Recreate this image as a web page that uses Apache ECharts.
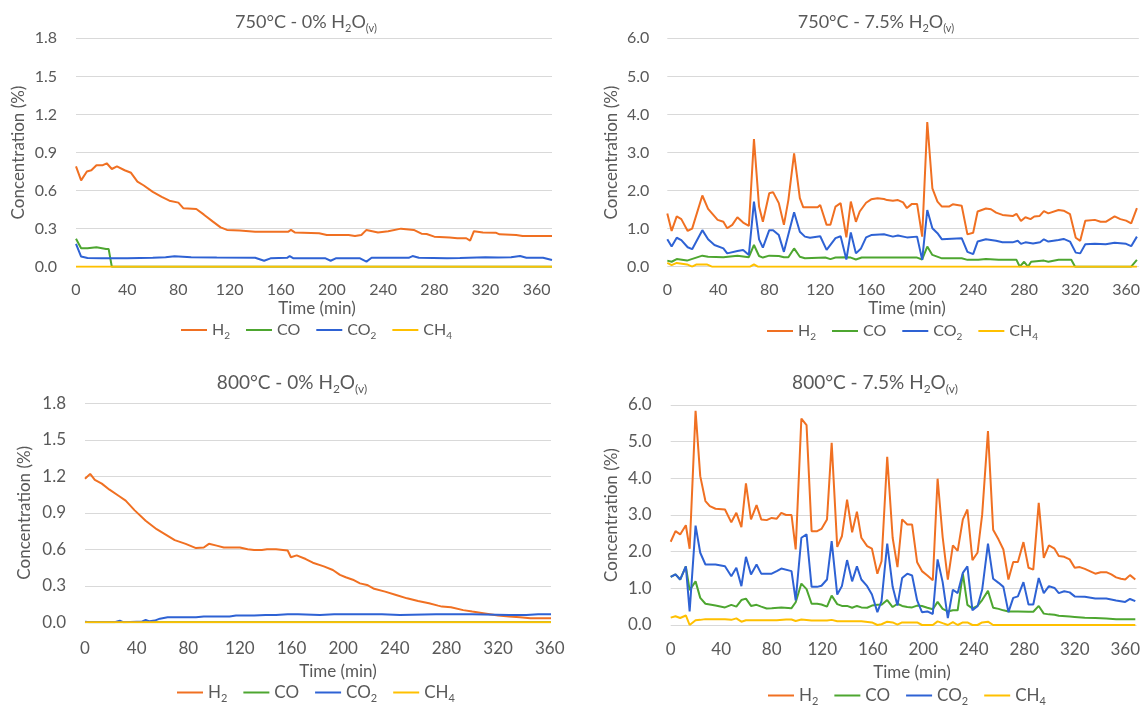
<!DOCTYPE html>
<html><head><meta charset="utf-8">
<script src="https://cdn.jsdelivr.net/npm/echarts@6/dist/echarts.min.js"></script>
<style>html,body{margin:0;padding:0;background:#fff}#c{width:1143px;height:705px}</style>
</head><body><div id="c"></div>
<script>
// ---------- DATA ----------
const seriesNames = ['H2', 'CO', 'CO2', 'CH4'];
const panelTitles = ['750°C - 0% H2O(v)', '750°C - 7.5% H2O(v)', '800°C - 0% H2O(v)', '800°C - 7.5% H2O(v)'];
const xAxisName = 'Time (min)';
const yAxisName = 'Concentration (%)';
const xTickStep = 40;
const yMaxLow = 1.8, yStepLow = 0.3;
const yMaxHigh = 6, yStepHigh = 1;

// Panel 1: 750°C - 0% H2O
const tlH2 = [[0,0.79],[4,0.68],[8.5,0.75],[12,0.76],[16,0.80],[21,0.80],[24,0.815],[28,0.77],[32,0.79],[38,0.76],[43,0.74],[48,0.67],[53,0.64],[60,0.59],[67,0.55],[73,0.52],[80,0.505],[84,0.46],[94,0.455],[100,0.41],[107,0.355],[113,0.31],[118,0.29],[128,0.285],[140,0.276],[166,0.276],[168,0.29],[171,0.27],[190,0.263],[196,0.25],[213,0.25],[218,0.242],[223,0.25],[227,0.29],[236,0.27],[244,0.28],[254,0.30],[264,0.29],[270,0.26],[274,0.258],[280,0.237],[292,0.23],[298,0.224],[305,0.224],[308,0.205],[311,0.28],[318,0.27],[328,0.268],[331,0.255],[344,0.25],[349,0.242],[372,0.242]];
const tlCO = [[0,0.22],[4,0.145],[9,0.145],[16,0.153],[23.5,0.14],[25.5,0.14],[28,0],[372,0]];
const tlCO2 = [[0,0.18],[4,0.08],[9,0.068],[20,0.066],[40,0.066],[60,0.07],[70,0.075],[77,0.082],[90,0.075],[110,0.072],[140,0.07],[147,0.047],[152,0.066],[165,0.07],[167,0.084],[170,0.066],[195,0.066],[199,0.047],[203,0.066],[222,0.066],[227,0.04],[231,0.07],[260,0.07],[263,0.084],[268,0.07],[290,0.066],[300,0.068],[320,0.075],[330,0.072],[340,0.075],[347,0.084],[352,0.07],[365,0.07],[372,0.053]];
const tlCH4 = [[0,0],[372,0]];

// Panel 2: 750°C - 7.5% H2O
const trH2 = [[0,1.40],[3.4,0.94],[7.4,1.32],[11,1.25],[16,0.94],[19.5,1.0],[27.5,1.87],[32,1.52],[39.5,1.23],[44,1.18],[47,1.01],[51,1.10],[55,1.30],[59.5,1.16],[64,1.07],[68,3.35],[72,1.58],[75,1.18],[80,1.93],[83,1.96],[87.5,1.67],[91.5,1.10],[95,1.75],[99.5,2.98],[104,1.80],[106.7,1.56],[118,1.56],[120,1.62],[125,1.10],[128,1.10],[132,1.58],[136,1.67],[140.5,0.77],[144,1.71],[148,1.18],[151,1.45],[156,1.68],[160,1.77],[165,1.80],[170,1.78],[172.5,1.75],[177,1.73],[181,1.75],[185,1.69],[188,1.54],[192,1.65],[196,1.65],[200,0.79],[204,3.80],[208,2.06],[212,1.71],[215.5,1.58],[221,1.58],[224,1.64],[231,1.60],[235.5,0.85],[240,0.89],[243.5,1.45],[250,1.53],[254,1.51],[258,1.42],[263,1.36],[271,1.33],[274,1.39],[277.5,1.20],[281,1.30],[285,1.25],[288,1.32],[292,1.33],[295.5,1.46],[299,1.40],[307,1.49],[311,1.47],[316,1.38],[320.5,0.76],[324,0.68],[328,1.21],[335.5,1.23],[340,1.18],[344,1.18],[351,1.32],[355.5,1.25],[360,1.21],[364,1.14],[368.5,1.54]];
const trCO = [[0,0.16],[3.4,0.13],[7.4,0.20],[15.5,0.16],[27.5,0.29],[32,0.26],[44,0.25],[55,0.29],[64,0.25],[68,0.57],[72,0.28],[75,0.24],[80,0.29],[87.5,0.28],[91.5,0.25],[95,0.25],[99.5,0.48],[104,0.26],[108,0.22],[124,0.24],[128,0.20],[132,0.24],[140.5,0.25],[144,0.24],[148,0.19],[152.5,0.24],[181,0.24],[196,0.24],[200,0.19],[204,0.53],[208,0.31],[215.5,0.22],[231,0.22],[235.5,0.18],[244,0.18],[250,0.20],[260,0.18],[274,0.18],[276.6,0],[280,0.13],[283,0],[285.5,0.13],[295.5,0.16],[299,0.13],[307,0.18],[317,0.18],[320,0],[364,0],[368.5,0.18]];
const trCO2 = [[0,0.72],[3.4,0.53],[7.4,0.76],[11,0.70],[16,0.51],[19.5,0.46],[27.5,0.96],[32,0.72],[37,0.57],[44,0.48],[47,0.35],[55,0.41],[59.5,0.44],[64,0.31],[68,1.71],[72,0.72],[75,0.50],[80,0.96],[83,0.96],[87.5,0.83],[91.5,0.39],[99.5,1.43],[104,0.92],[108,0.79],[112,0.76],[120,0.80],[125,0.44],[132,0.75],[136,0.80],[140.5,0.19],[144,0.90],[148,0.35],[152,0.48],[156,0.77],[160,0.83],[170,0.85],[177,0.79],[181,0.82],[188,0.77],[196,0.79],[200,0.18],[204,1.49],[208,1.01],[212,0.88],[215.5,0.72],[231,0.75],[235.5,0.39],[240,0.33],[243.5,0.66],[250,0.72],[258,0.68],[263,0.64],[271,0.64],[275,0.68],[277.5,0.60],[281,0.64],[287,0.61],[292.5,0.64],[295.5,0.72],[299,0.66],[307,0.70],[311,0.73],[316,0.66],[320.5,0.37],[324,0.35],[328,0.59],[335.5,0.60],[344,0.59],[351,0.63],[360,0.60],[364,0.54],[368.5,0.79]];
const trCH4 = [[0,0.10],[3.4,0.04],[7.4,0.10],[15.5,0.06],[19.5,0],[23,0.06],[31,0.06],[35,0],[65,0],[68,0.06],[71,0],[368.5,0]];

// Panel 3: 800°C - 0% H2O
const blH2 = [[0,1.18],[4,1.22],[7.6,1.17],[13,1.14],[19,1.09],[26,1.04],[31.5,1.00],[38.5,0.92],[47,0.835],[55.5,0.765],[62.5,0.72],[69.5,0.675],[78,0.645],[86,0.61],[92,0.615],[96,0.645],[102,0.63],[107.5,0.615],[120,0.615],[126,0.60],[131,0.595],[137,0.595],[141,0.60],[148,0.60],[157,0.59],[159.5,0.535],[164,0.55],[171,0.52],[176.5,0.49],[185,0.46],[192,0.43],[197.5,0.39],[202,0.37],[207.5,0.35],[213,0.32],[218.5,0.307],[224,0.275],[232.5,0.252],[241,0.225],[249.5,0.197],[258,0.175],[266.5,0.156],[273.5,0.137],[276.5,0.129],[283.5,0.123],[293,0.10],[300,0.088],[308.5,0.074],[320,0.055],[328.5,0.047],[337,0.041],[345,0.033],[353.5,0.033],[361,0.033]];
const blCO = [[0,0],[361,0]];
const blCO2 = [[0,0.005],[4,0],[23,0],[27,0.014],[30,0],[40,0.005],[44,0.005],[47,0.02],[50,0.008],[54,0.014],[58,0.03],[64,0.041],[75,0.041],[86,0.041],[92,0.047],[103,0.047],[112,0.047],[117,0.055],[131,0.055],[140,0.06],[148,0.06],[157,0.066],[165,0.066],[182,0.06],[193,0.066],[230,0.066],[244,0.06],[272,0.066],[300,0.066],[328.5,0.06],[342,0.06],[351,0.066],[361,0.066]];
const blCH4 = [[0,0],[361,0]];

// Panel 4: 800°C - 7.5% H2O
const brH2 = [[0,2.27],[3.8,2.56],[7.5,2.47],[12,2.72],[15,2.08],[19.7,5.84],[23.4,4.06],[27.5,3.38],[31,3.24],[35.5,3.17],[43,3.15],[44,3.10],[48,2.80],[52,3.06],[56,2.67],[59.6,3.86],[63.6,2.88],[68,3.27],[71.7,2.88],[76,2.86],[80,2.92],[84,2.90],[87.6,3.06],[91.4,3.00],[95.7,3.00],[99,2.06],[103.5,5.63],[107.6,5.45],[111.6,2.56],[116,2.56],[119.4,2.62],[123.8,2.88],[127.5,4.97],[131.9,2.13],[135.6,2.42],[139.7,3.42],[143.7,2.53],[147.5,3.09],[151,2.38],[155.6,2.15],[159.4,2.08],[163.7,1.40],[167,1.74],[171.5,4.59],[175.8,2.38],[179.6,1.58],[183.3,2.88],[187.4,2.74],[191.2,2.74],[195.2,1.71],[199,1.47],[203.3,1.35],[207.6,1.22],[211.4,3.99],[215.4,2.40],[219.5,1.24],[223.5,2.17],[227.3,2.02],[231.4,2.88],[235,3.15],[239,1.77],[243,1.97],[246.7,3.01],[251.3,5.29],[255.4,2.60],[259.7,2.33],[263.5,2.06],[267.5,1.24],[271.3,1.72],[275,1.72],[279.4,2.26],[283.4,1.56],[287.2,1.51],[291.5,3.33],[295.5,1.83],[299.6,2.17],[304,2.08],[307.4,1.88],[311.7,1.86],[316,1.79],[320,1.56],[324,1.58],[328,1.53],[331.9,1.47],[336.3,1.40],[340.6,1.44],[345,1.44],[349,1.38],[352.8,1.30],[356.6,1.26],[360,1.24],[363.8,1.36],[368,1.24]];
const brCO = [[0,1.31],[3.8,1.38],[7.5,1.24],[12,1.60],[15,0.95],[19.7,1.19],[23.4,0.74],[27.5,0.58],[35.5,0.53],[43,0.48],[48,0.55],[52,0.50],[56,0.68],[59.6,0.72],[63.6,0.52],[68,0.55],[71.7,0.50],[76,0.45],[80,0.46],[87.6,0.48],[95.7,0.46],[99,0.62],[103.5,1.13],[107.6,0.98],[111.6,0.58],[116,0.58],[119.4,0.56],[123.8,0.50],[127.5,0.80],[131.9,0.57],[135.6,0.52],[139.7,0.52],[143.7,0.47],[147.5,0.52],[151,0.48],[155.6,0.47],[159.4,0.53],[163.7,0.55],[167,0.55],[171.5,0.68],[175.8,0.49],[179.6,0.58],[183.3,0.52],[187.4,0.49],[191.2,0.48],[195.2,0.53],[199,0.52],[203.3,0.47],[207.6,0.43],[211.4,0.63],[215.4,0.44],[219.5,0.37],[223.5,0.40],[227.3,0.40],[231.4,1.40],[235,0.55],[239,0.45],[243,0.52],[246.7,0.68],[251.3,0.93],[255.4,0.47],[259.7,0.44],[263.5,0.40],[267.5,0.37],[271.3,0.37],[275,0.37],[283.4,0.36],[287.2,0.36],[291.5,0.52],[295.5,0.31],[299.6,0.29],[304,0.28],[307.4,0.25],[316,0.23],[320,0.22],[328,0.20],[336.3,0.19],[345,0.18],[352.8,0.16],[360,0.16],[368,0.16]];
const brCO2 = [[0,1.31],[3.8,1.38],[7.5,1.24],[12,1.60],[15,0.37],[19.7,2.71],[23.4,1.97],[27.5,1.65],[35.5,1.65],[43,1.60],[48,1.33],[52,1.56],[56,1.06],[59.6,1.86],[63.6,1.38],[68,1.65],[71.7,1.40],[80,1.40],[84,1.47],[87.6,1.54],[95.7,1.47],[99,0.67],[103.5,2.38],[107.6,2.47],[111.6,1.04],[116,1.04],[119.4,1.07],[123.8,1.24],[127.5,2.29],[131.9,0.83],[135.6,1.06],[139.7,1.77],[143.7,1.19],[147.5,1.60],[151,1.24],[155.6,1.06],[159.4,0.83],[163.7,0.35],[167,0.65],[171.5,2.22],[175.8,1.04],[179.6,0.53],[183.3,1.28],[187.4,1.40],[191.2,1.35],[195.2,0.67],[199,0.35],[203.3,0.37],[207.6,0.30],[211.4,1.79],[215.4,1.17],[219.5,0.19],[223.5,0.96],[227.3,0.87],[231.4,1.42],[235,1.60],[239,0.40],[243,0.51],[246.7,0.96],[251.3,2.22],[255.4,1.26],[259.7,1.15],[263.5,1.04],[267.5,0.35],[271.3,0.74],[275,0.78],[279.4,1.17],[283.4,0.56],[287.2,0.56],[291.5,1.28],[295.5,0.87],[299.6,1.06],[304,1.01],[307.4,0.87],[311.7,0.92],[316,0.89],[320,0.78],[328,0.77],[336.3,0.72],[345,0.72],[352.8,0.67],[360,0.63],[363.8,0.71],[368,0.65]];
const brCH4 = [[0,0.20],[3.8,0.24],[7.5,0.19],[12,0.26],[15,0],[19.7,0.13],[23.4,0.14],[27.5,0.16],[43,0.16],[48,0.14],[52,0.18],[56,0.09],[59.6,0.13],[68,0.13],[84,0.13],[91.4,0.15],[95.7,0.15],[99,0.11],[103.5,0.15],[111.6,0.12],[123.8,0.12],[127.5,0.14],[131.9,0.10],[143.7,0.10],[151,0.10],[159.4,0.07],[163.7,0],[167,0.02],[171.5,0.09],[175.8,0.07],[179.6,0.01],[183.3,0.07],[195.2,0.07],[199,0],[207.6,0],[211.4,0.10],[215.4,0.05],[219.5,0],[223.5,0.08],[227.3,0],[231.4,0.07],[235,0.07],[239,0],[243,0],[246.7,0.07],[251.3,0.09],[255.4,0],[368,0]];

const panelData = [
  [tlH2, tlCO, tlCO2, tlCH4],
  [trH2, trCO, trCO2, trCH4],
  [blH2, blCO, blCO2, blCH4],
  [brH2, brCO, brCO2, brCH4]
];
const panelXMax = [372, 370, 361, 369];
const panelYMax = [yMaxLow, yMaxHigh, yMaxLow, yMaxHigh];
const panelYStep = [yStepLow, yStepHigh, yStepLow, yStepHigh];

// ---------- STYLE / LAYOUT ----------
const colors = ['#F07022', '#4DA630', '#2E62D4', '#FFC000'];
const FONT = 'Lato';
const TXT = '#595959';
const layout = [
  {left: 76,    top: 38.3,  width: 476,   height: 228.4, fs: 16, lm: 15, ym: 19, ng: 49, title: [306, 22], xname: [317, 309], legend: [181, 322]},
  {left: 667.3, top: 38.3,  width: 472.7, height: 228.4, fs: 16, lm: 15, ym: 18, ng: 47, title: [876, 22], xname: [907, 309], legend: [767, 323]},
  {left: 85,    top: 403.3, width: 466,   height: 219,   fs: 17, lm: 18, ym: 19, ng: 52, title: [292, 383], xname: [338, 672], legend: [177, 684]},
  {left: 670.7, top: 405,   width: 466,   height: 220,   fs: 17, lm: 16, ym: 19, ng: 51, title: [875, 383], xname: [912, 673], legend: [768, 687]}
];

function subRich(fs) {
  return {
    n: {fontFamily: FONT, fontSize: fs, fontWeight: 'normal', color: TXT, lineHeight: fs + 6, verticalAlign: 'middle'},
    s: {fontFamily: FONT, fontSize: Math.round(fs * 0.62), fontWeight: 'normal', color: TXT, lineHeight: Math.round(fs * 0.5), verticalAlign: 'bottom'}
  };
}
function titleRich(t) {
  const i = t.indexOf('H2O(v)');
  return '{n|' + t.slice(0, i) + 'H}{s|2}{n|O}{s|(v)}';
}
function legendRich(name) {
  if (name === 'H2') return '{n|H}{s|2}';
  if (name === 'CO2') return '{n|CO}{s|2}';
  if (name === 'CH4') return '{n|CH}{s|4}';
  return '{n|' + name + '}';
}

const chart = echarts.init(document.getElementById('c'), null, {renderer: 'canvas'});
const grids = [], xAxes = [], yAxes = [], series = [], titles = [], legends = [];
layout.forEach((L, p) => {
  grids.push({left: L.left, top: L.top, width: L.width, height: L.height, containLabel: false});
  xAxes.push({
    type: 'value', gridIndex: p, min: 0, max: panelXMax[p], interval: xTickStep,
    axisLine: {show: false}, axisTick: {show: false}, splitLine: {show: false},
    axisLabel: {color: TXT, fontFamily: FONT, fontSize: L.fs, margin: L.lm, showMaxLabel: false,
      formatter: v => (v % xTickStep === 0 ? String(v) : '')}
  });
  yAxes.push({
    type: 'value', gridIndex: p, min: 0, max: panelYMax[p], interval: panelYStep[p],
    name: yAxisName, nameLocation: 'middle', nameGap: L.ng,
    nameTextStyle: {color: TXT, fontFamily: FONT, fontSize: 17},
    axisLine: {show: false}, axisTick: {show: false},
    splitLine: {show: true, lineStyle: {color: '#D9D9D9', width: 1}},
    axisLabel: {color: TXT, fontFamily: FONT, fontSize: L.fs, margin: L.ym, formatter: v => v.toFixed(1)}
  });
  seriesNames.forEach((nm, k) => {
    series.push({
      type: 'line', name: nm, xAxisIndex: p, yAxisIndex: p,
      data: panelData[p][k], symbol: 'none', showSymbol: false, smooth: false,
      color: colors[k], lineStyle: {color: colors[k], width: 2}, animation: false
    });
  });
  titles.push({
    text: titleRich(panelTitles[p]), left: L.title[0], top: L.title[1],
    textAlign: 'center', textVerticalAlign: 'middle', padding: 0,
    textStyle: {fontWeight: 'normal', rich: subRich(L.fs + 2)}
  });
  titles.push({
    text: xAxisName, left: L.xname[0], top: L.xname[1],
    textAlign: 'center', textVerticalAlign: 'middle', padding: 0,
    textStyle: {color: TXT, fontFamily: FONT, fontSize: 17, fontWeight: 'normal'}
  });
  legends.push({
    data: seriesNames.map(n => ({name: n, icon: 'rect'})),
    left: L.legend[0], top: L.legend[1], padding: 0,
    itemWidth: 26, itemHeight: 2, itemGap: 16, orient: 'horizontal',
    formatter: legendRich,
    textStyle: {color: TXT, fontFamily: FONT, fontSize: L.fs, rich: subRich(L.fs)}
  });
});

chart.setOption({
  animation: false,
  backgroundColor: '#ffffff',
  title: titles, legend: legends,
  grid: grids, xAxis: xAxes, yAxis: yAxes, series: series
});
</script>
</body></html>
